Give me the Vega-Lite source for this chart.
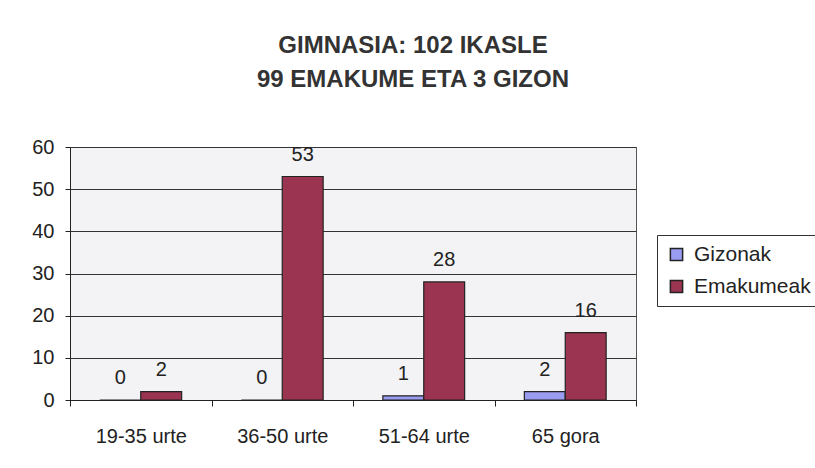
{
  "$schema": "https://vega.github.io/schema/vega-lite/v6.json",
  "autosize": {"type": "none"},
  "width": 566,
  "height": 253,
  "padding": {"left": 70, "top": 147, "right": 179, "bottom": 68},
  "background": "white",
  "title": {
    "text": ["GIMNASIA: 102 IKASLE", "99 EMAKUME ETA 3 GIZON"],
    "font": "Liberation Sans",
    "fontSize": 24,
    "fontWeight": "bold",
    "color": "#333333",
    "lineHeight": 34,
    "anchor": "middle",
    "frame": "group",
    "dx": 60,
    "offset": 45
  },
  "data": {
    "values": [
      {"adina": "19-35 urte", "sexua": "Gizonak", "kopurua": 0},
      {"adina": "19-35 urte", "sexua": "Emakumeak", "kopurua": 2},
      {"adina": "36-50 urte", "sexua": "Gizonak", "kopurua": 0},
      {"adina": "36-50 urte", "sexua": "Emakumeak", "kopurua": 53},
      {"adina": "51-64 urte", "sexua": "Gizonak", "kopurua": 1},
      {"adina": "51-64 urte", "sexua": "Emakumeak", "kopurua": 28},
      {"adina": "65 gora", "sexua": "Gizonak", "kopurua": 2},
      {"adina": "65 gora", "sexua": "Emakumeak", "kopurua": 16}
    ]
  },
  "encoding": {
    "x": {
      "field": "adina",
      "type": "nominal",
      "sort": ["19-35 urte", "36-50 urte", "51-64 urte", "65 gora"],
      "scale": {"paddingInner": 0, "paddingOuter": 0},
      "axis": {
        "title": null,
        "labelAngle": 0,
        "labelFont": "Liberation Sans",
        "labelFontSize": 20,
        "labelColor": "#222222",
        "labelPadding": 20,
        "tickBand": "extent",
        "tickSize": 6,
        "tickColor": "#222222",
        "domainColor": "#222222",
        "grid": false
      }
    },
    "xOffset": {
      "field": "sexua",
      "sort": ["Gizonak", "Emakumeak"],
      "scale": {"paddingInner": 0, "paddingOuter": 0.73}
    }
  },
  "layer": [
    {
      "mark": {"type": "bar", "stroke": "#222222", "strokeWidth": 1.2},
      "encoding": {
        "y": {
          "field": "kopurua",
          "type": "quantitative",
          "scale": {"domain": [0, 60]},
          "axis": {
            "title": null,
            "values": [0, 10, 20, 30, 40, 50, 60],
            "labelFont": "Liberation Sans",
            "labelFontSize": 20,
            "labelColor": "#222222",
            "labelPadding": 11,
            "tickSize": 5,
            "tickColor": "#222222",
            "domainColor": "#222222",
            "grid": true,
            "gridColor": "#333333",
            "gridWidth": 1
          }
        },
        "color": {
          "field": "sexua",
          "type": "nominal",
          "sort": ["Gizonak", "Emakumeak"],
          "scale": {"domain": ["Gizonak", "Emakumeak"], "range": ["#9a9cf0", "#9b3450"]},
          "legend": {
            "title": null,
            "orient": "none",
            "legendX": 587,
            "legendY": 88,
            "padding": 9,
            "strokeColor": "#333333",
            "fillColor": "white",
            "labelFont": "Liberation Sans",
            "labelFontSize": 21,
            "labelColor": "#222222",
            "labelOffset": 7,
            "symbolType": "square",
            "symbolSize": 150,
            "symbolStrokeColor": "#222222",
            "symbolStrokeWidth": 1.5,
            "rowPadding": 10
          }
        }
      }
    },
    {
      "mark": {
        "type": "text",
        "baseline": "alphabetic",
        "dy": -16,
        "font": "Liberation Sans",
        "fontSize": 20,
        "color": "#222222"
      },
      "encoding": {
        "y": {"field": "kopurua", "type": "quantitative"},
        "text": {"field": "kopurua", "type": "quantitative"}
      }
    }
  ],
  "config": {
    "view": {"fill": "#f3f3f6", "stroke": "#555555"}
  }
}
